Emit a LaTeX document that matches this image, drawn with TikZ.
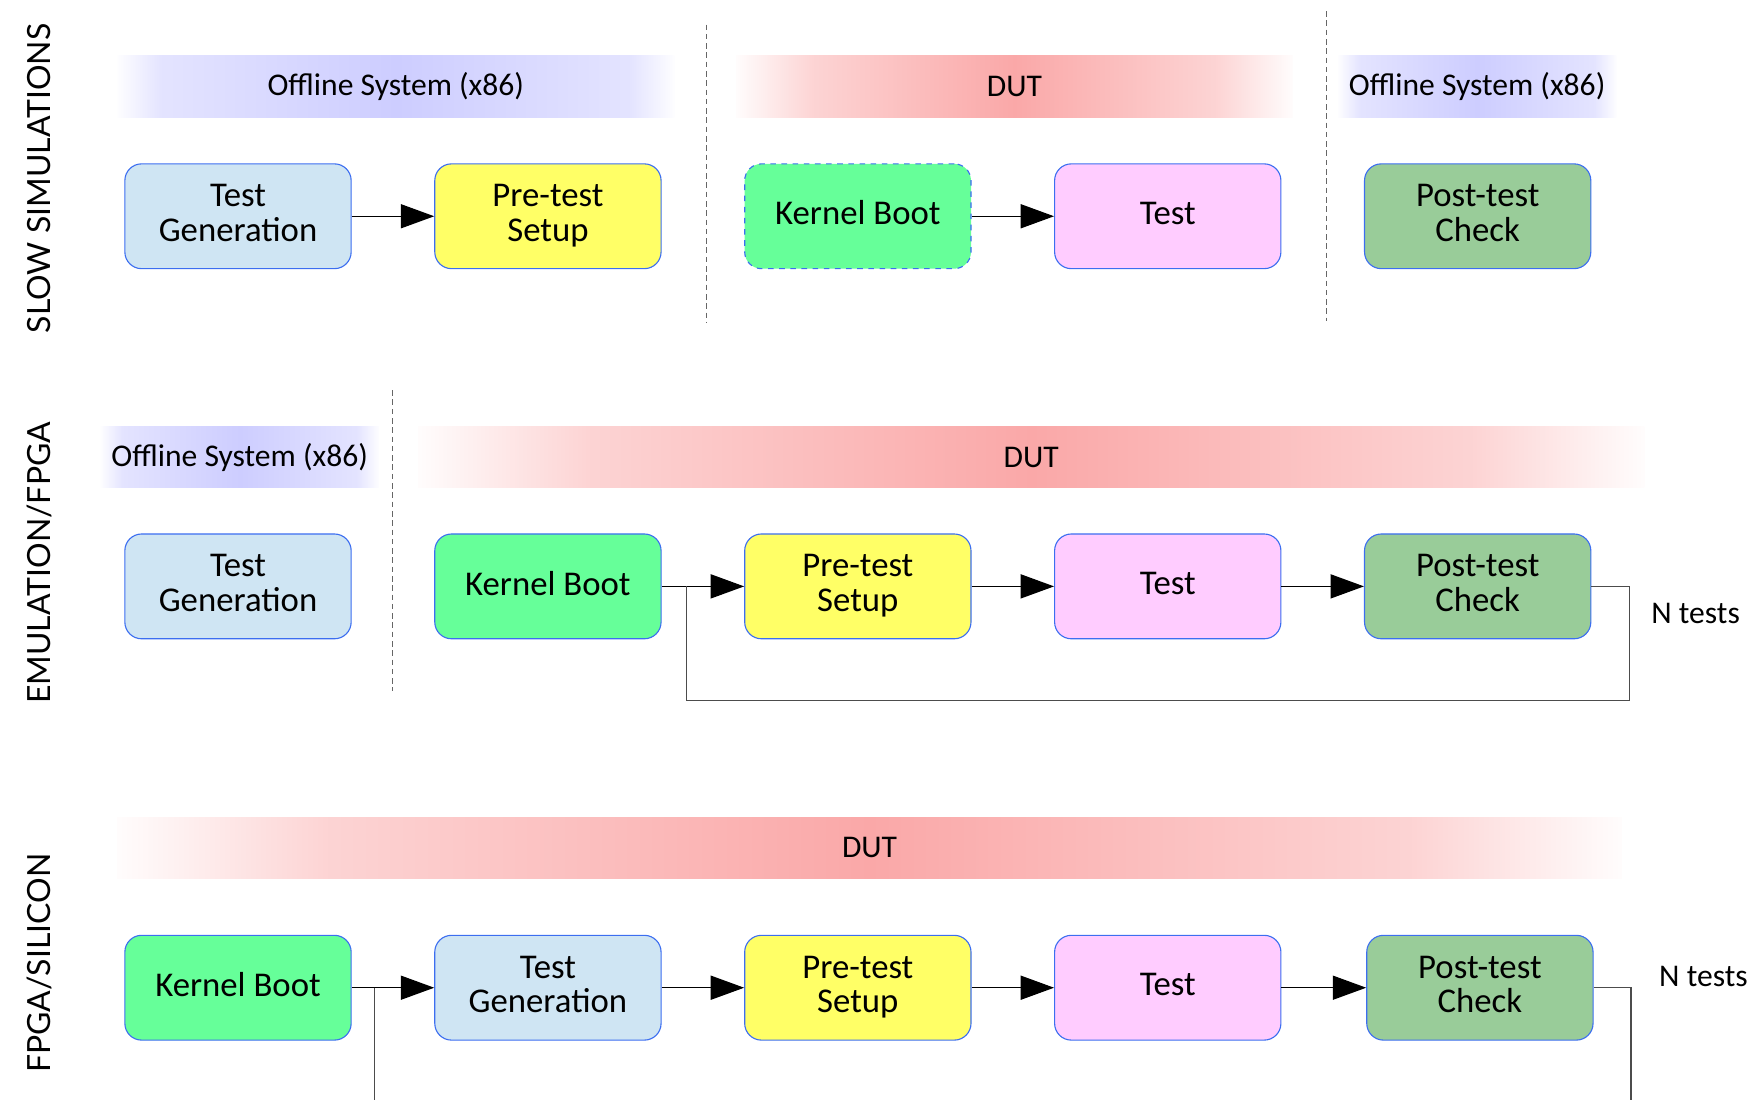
\documentclass[tikz,border=0pt]{standalone}
\usepackage{fontspec}
\setmainfont{Carlito}
\newfontfamily\sidefont{Lato}
\usetikzlibrary{arrows.meta,calc}
\definecolor{bordc}{RGB}{60,110,240}
\definecolor{tgc}{RGB}{207,229,243}
\definecolor{ptc}{RGB}{255,255,102}
\definecolor{kbc}{RGB}{102,255,153}
\definecolor{tsc}{RGB}{255,204,255}
\definecolor{pcc}{RGB}{153,204,153}
\definecolor{offc}{RGB}{205,205,255}
\definecolor{dutc}{RGB}{250,168,168}
\pgfdeclarehorizontalshading{offsh}{100bp}{color(0bp)=(white); color(25bp)=(offc!3); color(29bp)=(offc!55); color(50bp)=(offc); color(71bp)=(offc!55); color(75bp)=(offc!3); color(100bp)=(white)}
\pgfdeclarehorizontalshading{dutsh}{100bp}{color(0bp)=(white); color(25bp)=(dutc!3); color(32bp)=(dutc!50); color(50bp)=(dutc); color(68bp)=(dutc!50); color(75bp)=(dutc!3); color(100bp)=(white)}
\tikzset{
  box/.style={draw=bordc, line width=0.6pt, rounded corners=9pt, minimum width=121.8pt, minimum height=56.4pt, align=center, inner sep=2pt, text depth=3.6pt, font=\fontsize{18.7}{18.6}\selectfont},
  offban/.style={minimum height=33pt, inner sep=0pt, shading=offsh, font=\fontsize{17}{17}\selectfont},
  dutban/.style={minimum height=33pt, inner sep=0pt, shading=dutsh, font=\fontsize{17}{17}\selectfont},
  flow/.style={draw=black, line width=0.6pt, -{Triangle[length=18pt,width=13pt]}},
  loopline/.style={draw=black!70, line width=0.6pt},
  sep/.style={draw=black!60, line width=0.6pt, dash pattern=on 3pt off 2pt},
  side/.style={rotate=90, font=\sidefont\fontsize{17.2}{17}\selectfont},
  ntext/.style={font=\fontsize{17}{17}\selectfont}
}
\begin{document}
\begin{tikzpicture}[x=0.6pt,y=-0.6pt]
\useasboundingbox (0,0) rectangle (1568,987);
% side labels
\node[side] (s1) at (35,160) {SLOW SIMULATIONS};
\node[side] (s2) at (35,505) {EMULATION/FPGA};
\node[side] (s3) at (35,864) {FPGA/SILICON};
% separators
\draw[sep] (634,22) -- (634,290);
\draw[sep] (1190,10) -- (1190,288);
\draw[sep] (352,350) -- (352,620);
% banners row 1
\node[offban, minimum width=300pt] (b11) at (355,77.5) {Offline System (x86)};
\node[dutban, minimum width=300pt] (b12) at (910,77.5) {DUT};
\node[offban, minimum width=150pt] (b13) at (1325,77.5) {Offline System (x86)};
% row 1 boxes
\node[box, fill=tgc] (tg1) at (213.5,194) {Test\\Generation};
\node[box, fill=ptc] (pt1) at (491.5,194) {Pre-test\\Setup};
\node[box, fill=kbc, dashed] (kb1) at (769.5,194) {Kernel Boot};
\node[box, fill=tsc] (ts1) at (1047.5,194) {Test};
\node[box, fill=pcc] (pc1) at (1325.5,194) {Post-test\\Check};
\draw[flow] (tg1) -- (pt1);
\draw[flow] (kb1) -- (ts1);
% row 2
\node[offban, minimum width=150pt] (b21) at (215,410) {Offline System (x86)};
\node[dutban, minimum width=660pt] (b22) at (925,410) {DUT};
\node[box, fill=tgc] (tg2) at (213.5,526) {Test\\Generation};
\node[box, fill=kbc] (kb2) at (491.5,526) {Kernel Boot};
\node[box, fill=ptc] (pt2) at (769.5,526) {Pre-test\\Setup};
\node[box, fill=tsc] (ts2) at (1047.5,526) {Test};
\node[box, fill=pcc] (pc2) at (1325.5,526) {Post-test\\Check};
\draw[flow] (kb2) -- (pt2);
\draw[flow] (pt2) -- (ts2);
\draw[flow] (ts2) -- (pc2);
\coordinate (j2) at (616,526);
\coordinate (r2) at (1462,628);
\draw[loopline] (pc2.east) -| (r2) -| (j2);
\node[ntext] (n2) at (1521,550) {N tests};
% row 3
\node[dutban, minimum width=810pt] (b31) at (780,760.5) {DUT};
\node[box, fill=kbc] (kb3) at (213.5,886) {Kernel Boot};
\node[box, fill=tgc] (tg3) at (491.5,886) {Test\\Generation};
\node[box, fill=ptc] (pt3) at (769.5,886) {Pre-test\\Setup};
\node[box, fill=tsc] (ts3) at (1047.5,886) {Test};
\node[box, fill=pcc] (pc3) at (1327.5,886) {Post-test\\Check};
\draw[flow] (kb3) -- (tg3);
\draw[flow] (tg3) -- (pt3);
\draw[flow] (pt3) -- (ts3);
\draw[flow] (ts3) -- (pc3);
\coordinate (j3) at (336,886);
\coordinate (d3) at (336,987);
\coordinate (r3) at (1463,987);
\draw[loopline] (j3) -- (d3);
\draw[loopline] (pc3.east) -| (r3);
\node[ntext] (n3) at (1528,876) {N tests};
\end{tikzpicture}
\end{document}
